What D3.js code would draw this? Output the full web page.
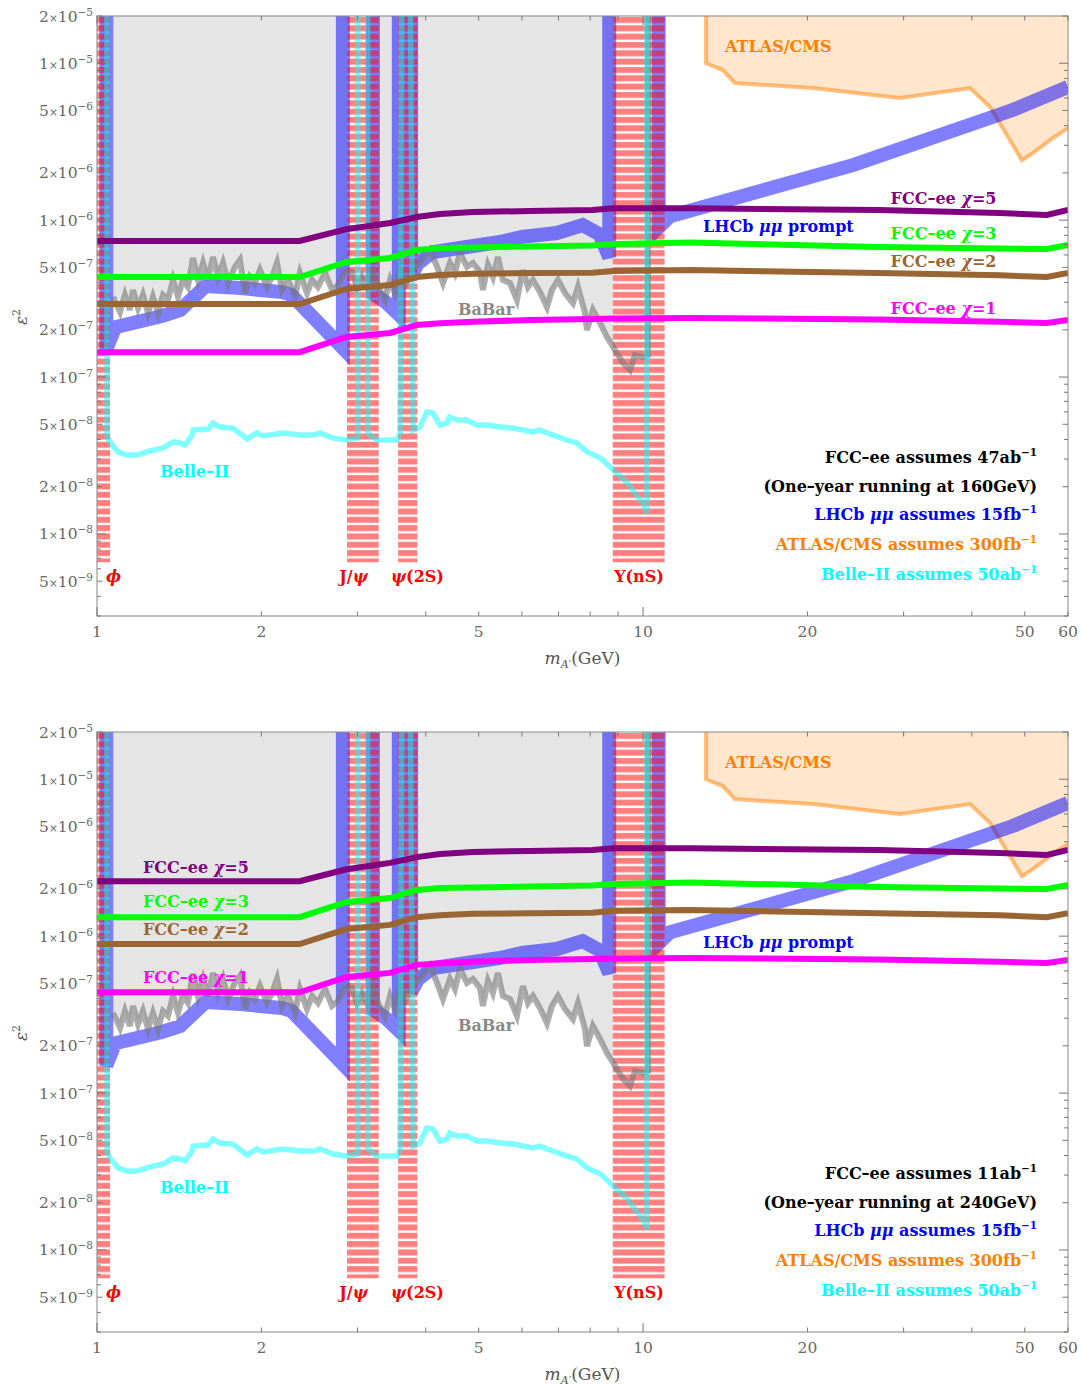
<!DOCTYPE html>
<meta charset="utf-8">
<style>
  body { margin: 0; background: #fff; }
  svg text { font-family: "DejaVu Serif", serif; }
  .lbl { font-weight: bold; font-size: 16px; }
  .tick { font-size: 15.5px; fill: #666; }
</style>
<body>
<div id="chart"></div>
<script src="https://d3js.org/d3.v7.min.js"></script>
<script>
// ---- data ----
const massTicks = [1, 2, 5, 10, 20, 50, 60];
const epsTicks = [2e-5, 1e-5, 5e-6, 2e-6, 1e-6, 5e-7, 2e-7, 1e-7, 5e-8, 2e-8, 1e-8, 5e-9];

// hadronic resonance veto windows (GeV)
const resonanceNames = ["ϕ", "J/ψ", "ψ(2S)", "Υ(nS)"];
const resonanceLow = [0.98, 2.87, 3.56, 8.8];
const resonanceHigh = [1.057, 3.28, 3.86, 10.95];
const resonanceLabelMass = [1.072, 2.949, 3.863, 9.83];
const resonanceFloor = 6.6e-9;

// BaBar limit [mass, eps^2]
const babar = [[1.070,3.24e-7],[1.102,2.60e-7],[1.125,3.33e-7],[1.149,2.67e-7],[1.164,3.59e-7],[1.189,2.75e-7],
  [1.214,3.33e-7],[1.240,2.56e-7],[1.266,3.24e-7],[1.293,2.56e-7],[1.321,3.33e-7],[1.349,3.10e-7],[1.378,4.15e-7],
  [1.407,3.24e-7],[1.437,4.15e-7],[1.467,3.75e-7],[1.499,5.74e-7],[1.531,4.15e-7],[1.564,5.33e-7],[1.597,4.15e-7],
  [1.631,5.82e-7],[1.666,4.34e-7],[1.701,5.33e-7],[1.738,3.97e-7],[1.789,5.03e-7],[1.827,5.57e-7],[1.866,3.43e-7],
  [1.906,4.34e-7],[1.947,3.97e-7],[1.988,4.81e-7],[2.048,3.75e-7],[2.092,4.34e-7],[2.136,5.33e-7],[2.182,3.59e-7],
  [2.238,4.15e-7],[2.305,3.24e-7],[2.353,4.60e-7],[2.424,3.43e-7],[2.476,4.15e-7],[2.539,3.75e-7],[2.616,4.60e-7],
  [2.694,3.59e-7],[2.763,3.86e-7],[2.846,4.67e-7],[2.931,4.67e-7],[2.993,3.75e-7],[3.057,4.34e-7],[3.122,3.75e-7],
  [3.202,4.67e-7],[3.270,3.75e-7],[3.368,3.10e-7],[3.440,4.15e-7],[3.513,3.43e-7],[3.589,4.81e-7],[3.681,3.97e-7],
  [3.775,4.81e-7],[3.855,5.18e-7],[3.904,5.33e-7],[4.072,6.45e-7],[4.194,5.03e-7],[4.301,3.97e-7],[4.430,5.33e-7],
  [4.524,4.60e-7],[4.620,6.17e-7],[4.759,5.03e-7],[4.880,5.33e-7],[5.027,4.67e-7],[5.091,3.59e-7],[5.199,5.18e-7],
  [5.310,4.34e-7],[5.423,5.82e-7],[5.538,4.15e-7],[5.704,3.97e-7],[5.875,3.10e-7],[6.026,4.81e-7],[6.155,3.75e-7],
  [6.286,4.15e-7],[6.474,3.48e-7],[6.669,2.79e-7],[6.810,3.59e-7],[6.985,4.15e-7],[7.194,3.43e-7],[7.441,2.96e-7],
  [7.599,3.75e-7],[7.827,2.56e-7],[7.893,1.99e-7],[8.095,2.67e-7],[8.338,2.21e-7],[8.589,1.80e-7],[8.884,1.49e-7],
  [9.189,1.23e-7],[9.465,1.11e-7],[9.664,1.38e-7],[9.996,1.34e-7],[10.21,1.38e-7],[10.21,1e-4]];

// Belle-II projection
const belle2 = [[1.043,1e-4],[1.043,4.2e-8],[1.056,3.86e-8],[1.093,3.33e-8],[1.135,3.18e-8],[1.184,3.18e-8],
  [1.234,3.33e-8],[1.266,3.42e-8],[1.321,3.53e-8],[1.378,3.86e-8],[1.419,3.80e-8],[1.449,3.69e-8],[1.493,4.27e-8],
  [1.499,4.59e-8],[1.597,4.66e-8],[1.630,5.09e-8],[1.679,4.80e-8],[1.773,4.73e-8],[1.882,4.03e-8],[1.963,4.40e-8],
  [2.013,4.21e-8],[2.190,4.40e-8],[2.353,4.27e-8],[2.488,4.27e-8],[2.560,4.40e-8],[2.703,4.09e-8],[2.864,3.97e-8],
  [3.003,4.09e-8],[3.003,1e-4],[3.131,1e-4],[3.131,4.4e-8],[3.252,3.97e-8],[3.543,3.97e-8],[3.590,4.4e-8],
  [3.621,1e-4],[3.74,1e-4],[3.792,4.59e-8],[3.899,4.80e-8],[4.016,5.98e-8],[4.121,5.90e-8],[4.245,4.94e-8],
  [4.373,5.09e-8],[4.422,5.56e-8],[4.560,5.32e-8],[4.754,5.32e-8],[4.960,4.94e-8],[5.174,4.94e-8],[5.466,4.80e-8],
  [5.774,4.73e-8],[6.284,4.47e-8],[6.467,4.59e-8],[6.842,4.27e-8],[7.24,3.97e-8],[7.56,3.80e-8],[7.90,3.33e-8],
  [8.36,3.05e-8],[8.83,2.55e-8],[9.33,2.14e-8],[9.56,1.91e-8],[9.99,1.57e-8],[10.16,1.36e-8],[10.16,1e-4]];

// LHCb mu-mu prompt projection
const lhcb = [[1.04,1e-4],[1.04,1.5e-7],[1.08,2.08e-7],[1.315,2.45e-7],[1.42,2.67e-7],[1.58,3.8e-7],[1.83,3.69e-7],
  [2.18,3.48e-7],[2.27,3.34e-7],[2.73,1.72e-7],[2.82,1.53e-7],[2.82,1e-4],[3.2,1e-4],[3.2,3.4e-7],[3.38,3.0e-7],
  [3.57,2.5e-7],[3.57,1e-4],[3.76,1e-4],[3.76,4.4e-7],[3.87,5.3e-7],[4.12,6.26e-7],[4.75,6.74e-7],[5.47,7.26e-7],
  [6.0,7.82e-7],[6.95,8.28e-7],[7.75,9.31e-7],[8.33,8.1e-7],[8.67,5.8e-7],[8.67,1e-4],[10.68,1e-4],[10.68,9.0e-7],
  [11.2,1.06e-6],[24.3,2.25e-6],[47.5,5.03e-6],[60,7.06e-6]];

// ATLAS/CMS projection (boundary of excluded region)
const atlas = [[13.04,2.5e-5],[13.04,1.0e-5],[14.0,9.05e-6],[14.73,7.48e-6],[20.47,6.95e-6],[29.5,6.0e-6],
  [39.7,6.95e-6],[43.2,5.26e-6],[49.4,2.41e-6],[51.8,2.68e-6],[56.3,3.34e-6],[60,3.86e-6]];

// FCC-ee curves
const fccMass = [1.0, 2.35, 2.864, 3.44, 3.85, 4.245, 4.88, 6.21, 8.08, 8.83, 12.2, 27, 45, 54.9, 60];
const fcc160Chi5 = [7.36e-7,7.36e-7,8.77e-7,9.59e-7,1.047e-6,1.094e-6,1.127e-6,1.143e-6,1.16e-6,1.19e-6,1.19e-6,1.16e-6,1.11e-6,1.078e-6,1.16e-6];
const fcc160Chi3 = [4.34e-7,4.34e-7,5.41e-7,5.74e-7,6.45e-7,6.64e-7,6.7e-7,6.8e-7,6.9e-7,7.05e-7,7.2e-7,6.74e-7,6.6e-7,6.55e-7,6.94e-7];
const fcc160Chi2 = [2.92e-7,2.92e-7,3.64e-7,3.86e-7,4.34e-7,4.47e-7,4.55e-7,4.6e-7,4.62e-7,4.74e-7,4.81e-7,4.6e-7,4.45e-7,4.34e-7,4.6e-7];
const fcc160Chi1 = [1.44e-7,1.44e-7,1.80e-7,1.91e-7,2.15e-7,2.2e-7,2.25e-7,2.31e-7,2.34e-7,2.36e-7,2.38e-7,2.33e-7,2.25e-7,2.21e-7,2.31e-7];
const fcc240Chi5 = [2.24e-6,2.24e-6,2.67e-6,2.93e-6,3.19e-6,3.34e-6,3.44e-6,3.49e-6,3.54e-6,3.63e-6,3.63e-6,3.54e-6,3.39e-6,3.29e-6,3.54e-6];
const fcc240Chi3 = [1.32e-6,1.32e-6,1.65e-6,1.75e-6,1.97e-6,2.03e-6,2.04e-6,2.07e-6,2.1e-6,2.15e-6,2.2e-6,2.06e-6,2.01e-6,2.0e-6,2.12e-6];
const fcc240Chi2 = [8.9e-7,8.9e-7,1.11e-6,1.18e-6,1.32e-6,1.36e-6,1.39e-6,1.4e-6,1.41e-6,1.45e-6,1.47e-6,1.4e-6,1.36e-6,1.32e-6,1.4e-6];
const fcc240Chi1 = [4.39e-7,4.39e-7,5.49e-7,5.83e-7,6.56e-7,6.71e-7,6.86e-7,7.05e-7,7.14e-7,7.2e-7,7.26e-7,7.1e-7,6.86e-7,6.74e-7,7.05e-7];

const fccNames = ["FCC–ee χ=5", "FCC–ee χ=3", "FCC–ee χ=2", "FCC–ee χ=1"];
const fccColors = ["#800080", "#00ff00", "#996633", "#ff00ff"];

// ---- layout ----
const W = 1082, H = 1389;
const left = 97, pw = 971, ph = 600;
const x = d3.scaleLog().domain([1, 60]).range([0, pw]);
const y = d3.scaleLog().domain([3e-9, 2e-5]).range([ph, 0]);

const svg = d3.select("#chart").append("svg").attr("width", W).attr("height", H);
const defs = svg.append("defs");
defs.append("clipPath").attr("id", "plotClip").append("rect").attr("width", pw).attr("height", ph);
const pat = defs.append("pattern").attr("id", "hatch").attr("patternUnits", "userSpaceOnUse")
  .attr("width", 40).attr("height", 8.33);
pat.append("rect").attr("y", 1).attr("width", 40).attr("height", 6).attr("fill", "#ff0000").attr("fill-opacity", 0.5);

const line = d3.line().x(d => x(d[0])).y(d => y(d[1]));
const areaTop = d3.area().x(d => x(d[0])).y0(d => y(d[1])).y1(-20);

function rich(t, str, size) {
  const parts = str.split(/(\^\{[^}]*\}|[ϕψχμε])/).filter(s => s.length);
  let shift = 0;
  parts.forEach(p => {
    const s = t.append("tspan");
    if (p.startsWith("^{")) {
      s.text(p.slice(2, -1)).attr("font-size", size * 0.65).attr("dy", -size * 0.42);
      shift = size * 0.42;
    } else {
      s.text(p);
      if (shift) { s.attr("dy", shift); shift = 0; }
      if (/^[ϕψχμε]$/.test(p)) s.attr("font-style", "italic");
    }
  });
  return t;
}

function label(g, str, px, py, color, anchor) {
  const t = g.append("text").attr("class", "lbl").attr("x", px).attr("y", py)
    .attr("fill", color).attr("text-anchor", anchor || "start");
  return rich(t, str, 16);
}

function drawPanel(top, fcc, fccLabelAt, legend) {
  const g = svg.append("g").attr("transform", `translate(${left},${top})`);
  const plot = g.append("g").attr("clip-path", "url(#plotClip)");

  plot.append("path").datum(babar).attr("d", areaTop).attr("fill", "#e5e5e5");

  plot.append("path").datum(atlas).attr("d", areaTop).attr("fill", "#ff8000").attr("fill-opacity", 0.2);
  plot.append("path").datum(atlas).attr("d", line).attr("fill", "none")
    .attr("stroke", "#ff8000").attr("stroke-opacity", 0.5).attr("stroke-width", 4);

  const bands = d3.range(resonanceLow.length);
  plot.selectAll(".bandbg").data(bands).join("rect")
    .attr("x", i => x(resonanceLow[i])).attr("width", i => x(resonanceHigh[i]) - x(resonanceLow[i]))
    .attr("y", 0).attr("height", y(resonanceFloor)).attr("fill", "#fff");

  plot.append("path").datum(lhcb).attr("d", line).attr("fill", "none")
    .attr("stroke", "#0000ff").attr("stroke-opacity", 0.5).attr("stroke-width", 14)
    .attr("stroke-linejoin", "miter").attr("stroke-miterlimit", 3);

  plot.selectAll(".band").data(bands).join("rect")
    .attr("x", i => x(resonanceLow[i])).attr("width", i => x(resonanceHigh[i]) - x(resonanceLow[i]))
    .attr("y", 0).attr("height", y(resonanceFloor)).attr("fill", "url(#hatch)");

  plot.append("path").datum(babar).attr("d", line).attr("fill", "none")
    .attr("stroke", "#777").attr("stroke-opacity", 0.6).attr("stroke-width", 6);

  plot.append("path").datum(belle2).attr("d", line).attr("fill", "none")
    .attr("stroke", "#00ffff").attr("stroke-opacity", 0.5).attr("stroke-width", 5.5);

  fcc.forEach((vals, i) => {
    plot.append("path").datum(d3.zip(fccMass, vals)).attr("d", line).attr("fill", "none")
      .attr("stroke", fccColors[i]).attr("stroke-width", 6);
  });

  // frame and ticks
  g.append("rect").attr("width", pw).attr("height", ph).attr("fill", "none").attr("stroke", "#888");
  const xt = [];
  [1, 10].forEach(d => d3.range(1, 10).forEach(k => { if (k * d <= 60) xt.push(k * d); }));
  xt.forEach(v => {
    const len = (v === 1 || v === 10) ? 9 : 4.5;
    g.append("line").attr("x1", x(v)).attr("x2", x(v)).attr("y1", ph).attr("y2", ph - len).attr("stroke", "#777");
    g.append("line").attr("x1", x(v)).attr("x2", x(v)).attr("y1", 0).attr("y2", len).attr("stroke", "#777");
  });
  const yt = [];
  [-9, -8, -7, -6, -5].forEach(e => d3.range(1, 10).forEach(k => {
    const v = k * Math.pow(10, e);
    if (v >= 3e-9 * 0.999 && v <= 2e-5 * 1.001) yt.push([v, k]);
  }));
  yt.forEach(([v, k]) => {
    const len = k === 1 ? 9 : (k === 2 || k === 5 ? 5.5 : 4);
    g.append("line").attr("x1", 0).attr("x2", len).attr("y1", y(v)).attr("y2", y(v)).attr("stroke", "#777");
    g.append("line").attr("x1", pw).attr("x2", pw - len).attr("y1", y(v)).attr("y2", y(v)).attr("stroke", "#777");
  });

  massTicks.forEach(v => {
    g.append("text").attr("class", "tick").attr("x", x(v)).attr("y", ph + 21)
      .attr("text-anchor", "middle").text(v);
  });
  epsTicks.forEach(v => {
    const e = Math.floor(Math.log10(v) + 1e-9);
    const m = Math.round(v / Math.pow(10, e));
    const t = g.append("text").attr("class", "tick").attr("x", -4).attr("y", y(v) + 5.5).attr("text-anchor", "end");
    t.append("tspan").text(m);
    t.append("tspan").attr("font-size", 10.5).text("×");
    t.append("tspan").text("10");
    t.append("tspan").attr("font-size", 10.5).attr("dy", -6).text("−" + Math.abs(e));
  });

  const xl = g.append("text").attr("x", pw / 2).attr("y", ph + 48).attr("text-anchor", "middle")
    .attr("font-size", 17).attr("fill", "#555");
  xl.append("tspan").attr("font-style", "italic").text("m");
  xl.append("tspan").attr("font-style", "italic").attr("font-size", 11).attr("dy", 4).text("A′");
  xl.append("tspan").attr("dy", -4).text("(GeV)");

  const yl = svg.append("text").attr("transform", `translate(27,${top + 301}) rotate(-90)`)
    .attr("text-anchor", "middle").attr("font-size", 17).attr("fill", "#555");
  yl.append("tspan").attr("font-style", "italic").text("ε");
  yl.append("tspan").attr("font-size", 11).attr("dy", -7).text("2");

  // curve labels
  label(g, "ATLAS/CMS", x(14.13), y(1.18e-5), "#ff8000");
  label(g, "LHCb μμ prompt", x(12.88), y(8.4e-7), "#0000ff");
  label(g, "BaBar", x(4.58), y(2.49e-7), "#888");
  label(g, "Belle–II", x(1.304), y(2.31e-8), "#00ffff");
  fccNames.forEach((n, i) => label(g, n, x(fccLabelAt[i][0]), y(fccLabelAt[i][1]), fccColors[i]));
  resonanceNames.forEach((n, i) => label(g, n, x(resonanceLabelMass[i]), y(4.94e-9), "#ff0000", "middle"));

  // luminosity notes
  const notes = [
    [`FCC–ee assumes ${legend[0]}ab^{−1}`, "#000"],
    [`(One–year running at ${legend[1]}GeV)`, "#000"],
    ["LHCb μμ assumes 15fb^{−1}", "#0000ff"],
    ["ATLAS/CMS assumes 300fb^{−1}", "#ff8000"],
    ["Belle–II assumes 50ab^{−1}", "#00ffff"]
  ];
  const noteY = [447, 476, 504, 534, 564];
  notes.forEach((n, i) => label(g, n[0], 940, noteY[i], n[1], "end"));
}

drawPanel(16, [fcc160Chi5, fcc160Chi3, fcc160Chi2, fcc160Chi1],
  [[28.4, 1.27e-6], [28.4, 7.58e-7], [28.4, 5.03e-7], [28.4, 2.52e-7]], ["47", "160"]);
drawPanel(732, [fcc240Chi5, fcc240Chi3, fcc240Chi2, fcc240Chi1],
  [[1.214, 2.52e-6], [1.214, 1.53e-6], [1.214, 1.017e-6], [1.214, 5.03e-7]], ["11", "240"]);
</script>
</body>
